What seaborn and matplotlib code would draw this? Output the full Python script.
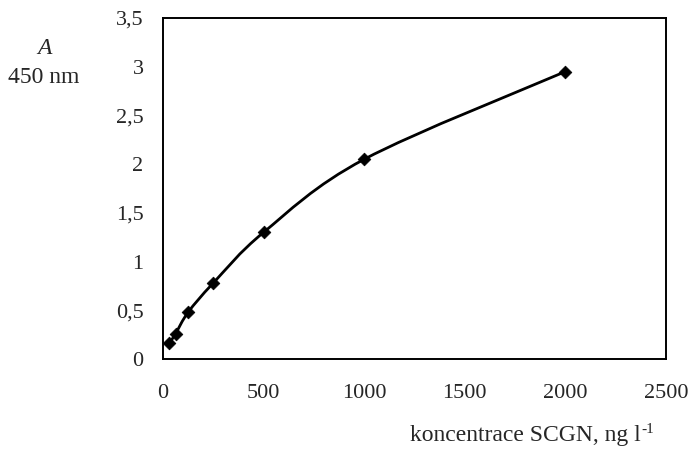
import matplotlib
matplotlib.use("Agg")
import matplotlib.pyplot as plt
from matplotlib.path import Path
from matplotlib.patches import PathPatch
import seaborn as sns
import pandas as pd

# calibration points
konc = [31.25, 62.5, 125, 250, 500, 1000, 2000]
absorb = [0.16, 0.26, 0.48, 0.78, 1.30, 2.05, 2.95]

x_ticks = [0, 500, 1000, 1500, 2000, 2500]
y_ticks = [0, 0.5, 1, 1.5, 2, 2.5, 3, 3.5]
y_labels = ["0", "0,5", "1", "1,5", "2", "2,5", "3", "3,5"]

sns.set_style("white")
plt.rcParams["font.family"] = ["Liberation Serif", "DejaVu Serif"]

df = pd.DataFrame({"konc": konc, "A": absorb})

W, H = 690, 453
fig = plt.figure(figsize=(6.9, 4.53), dpi=100)
ax = fig.add_axes([163 / W, 1 - 359 / H, (666 - 163) / W, (359 - 18) / H])

# smoothed line (Catmull-Rom style bezier, like Excel's smooth line)
pts = list(zip(konc, absorb))
verts = [pts[0]]
codes = [Path.MOVETO]
for i in range(len(pts) - 1):
    p0 = pts[i - 1] if i > 0 else pts[i]
    p1 = pts[i]
    p2 = pts[i + 1]
    p3 = pts[i + 2] if i + 2 < len(pts) else pts[i + 1]
    c1 = (p1[0] + (p2[0] - p0[0]) / 6, p1[1] + (p2[1] - p0[1]) / 6)
    c2 = (p2[0] - (p3[0] - p1[0]) / 6, p2[1] - (p3[1] - p1[1]) / 6)
    verts += [c1, c2, p2]
    codes += [Path.CURVE4] * 3
ax.add_patch(PathPatch(Path(verts, codes), fill=False, edgecolor="black", lw=2))

sns.scatterplot(data=df, x="konc", y="A", ax=ax, marker="D", s=42,
                color="black", edgecolor="black", zorder=3)

ax.set_xlim(0, 2500)
ax.set_ylim(0, 3.5)
ax.set_xticks(x_ticks)
ax.set_xticklabels([str(t) for t in x_ticks])
ax.set_yticks(y_ticks)
ax.set_yticklabels(y_labels)
ax.tick_params(direction="in", length=5, width=1, labelsize=16, color="black")
ax.tick_params(axis="y", pad=14)
ax.tick_params(axis="x", pad=18)
ax.set_xlabel("")
ax.set_ylabel("")
for s in ax.spines.values():
    s.set_color("black")
    s.set_linewidth(1.4)

fig.text(44 / W, 1 - 54 / H, "A", style="italic", fontsize=17, ha="center", va="baseline")
fig.text(44 / W, 1 - 83 / H, "450 nm", fontsize=17, ha="center", va="baseline")

# x axis title with a raised "-1"
t = fig.text(410 / W, 1 - 441 / H, "koncentrace SCGN, ng l", fontsize=17,
             ha="left", va="baseline")
r = fig.canvas.get_renderer()
bb = t.get_window_extent(renderer=r)
fig.text(bb.x1 / W + 0.001, 1 - 433 / H, "-1", fontsize=11, ha="left", va="baseline")

fig.savefig("out.png", dpi=100)
plt.close()
